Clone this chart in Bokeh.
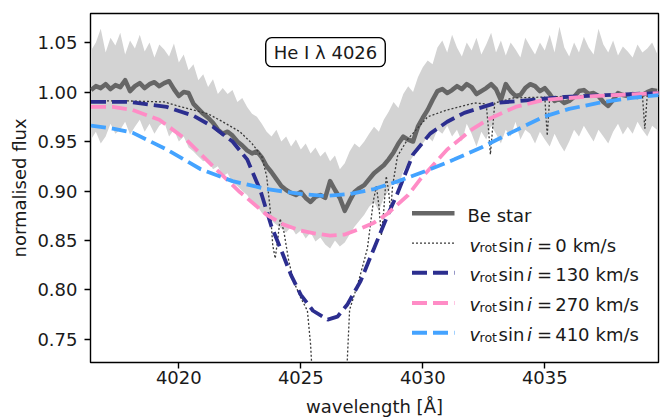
import numpy as np
from bokeh.plotting import figure
from bokeh.models import Label, FixedTicker, PrintfTickFormatter
from bokeh.core.properties import value
from bokeh.embed import file_html
from bokeh.resources import INLINE

# ---------------- data ----------------
# observed Be star spectrum (mean) and its spread, on a 0.2 A grid
wl_obs = np.round(np.linspace(4016.4, 4039.6, 117), 2)
flux_be = [
    1.002, 1.006, 1.004, 1.008, 1.003, 1.007, 1.005, 1.012, 1.001, 1.006,
    1.009, 1.004, 1.008, 1.010, 1.006, 1.009, 1.011, 1.003, 0.996, 1.000,
    0.999, 0.988, 0.983, 0.978, 0.974, 0.969, 0.962, 0.958, 0.960, 0.956,
    0.950, 0.946, 0.941, 0.938, 0.940, 0.934, 0.925, 0.919, 0.912, 0.905,
    0.901, 0.898, 0.896, 0.899, 0.893, 0.889, 0.894, 0.896, 0.893, 0.910,
    0.901, 0.893, 0.880, 0.890, 0.899, 0.903, 0.906, 0.912, 0.918, 0.922,
    0.926, 0.932, 0.939, 0.948, 0.955, 0.952, 0.950, 0.965, 0.974, 0.982,
    0.992, 1.001, 1.003, 0.999, 1.002, 1.006, 1.003, 1.008, 1.005, 0.998,
    1.001, 1.004, 1.008, 1.003, 0.992, 1.008, 1.001, 0.996, 0.997, 1.004,
    1.008, 1.006, 1.001, 1.004, 0.998, 0.991, 0.993, 0.989, 0.991, 0.995,
    1.001, 1.002, 0.998, 0.999, 0.996, 0.990, 0.986, 0.992, 0.999, 0.997,
    0.996, 0.998, 0.995, 0.997, 1.000, 1.002, 1.001,
]
band_hi = [
    1.042, 1.050, 1.064, 1.040, 1.055, 1.047, 1.060, 1.038, 1.052, 1.044,
    1.058, 1.041, 1.050, 1.035, 1.048, 1.043, 1.036, 1.049, 1.030, 1.038,
    1.022, 1.028, 1.012, 1.018, 1.005, 1.013, 0.998, 1.004, 0.998, 1.002,
    0.990, 0.994, 0.985, 0.978, 0.975, 0.968, 0.960, 0.955, 0.962, 0.950,
    0.955, 0.945, 0.952, 0.942, 0.948, 0.938, 0.944, 0.935, 0.940, 0.930,
    0.936, 0.922, 0.928, 0.940, 0.948, 0.944, 0.950, 0.958, 0.965, 0.960,
    0.972, 0.980, 0.990, 0.984, 0.998, 1.006, 1.000, 1.015, 1.025, 1.032,
    1.028, 1.045, 1.052, 1.040, 1.058, 1.045, 1.036, 1.050, 1.042, 1.055,
    1.038, 1.048, 1.060, 1.040, 1.052, 1.037, 1.050, 1.043, 1.035, 1.055,
    1.046, 1.038, 1.050, 1.042, 1.058, 1.040, 1.066, 1.045, 1.036, 1.050,
    1.040, 1.056, 1.045, 1.038, 1.064, 1.048, 1.040, 1.052, 1.037, 1.046,
    1.041, 1.035, 1.048, 1.040, 1.044, 1.050, 1.039,
]
band_lo = [
    0.952, 0.960, 0.948, 0.955, 0.968, 0.958, 0.962, 0.970, 0.957, 0.965,
    0.972, 0.960, 0.968, 0.958, 0.966, 0.970, 0.955, 0.962, 0.950, 0.955,
    0.944, 0.940, 0.935, 0.930, 0.932, 0.922, 0.925, 0.915, 0.918, 0.908,
    0.905, 0.900, 0.896, 0.889, 0.885, 0.878, 0.874, 0.870, 0.866, 0.862,
    0.858, 0.864, 0.856, 0.860, 0.852, 0.858, 0.849, 0.853, 0.846, 0.842,
    0.850, 0.844, 0.848, 0.856, 0.864, 0.870, 0.876, 0.884, 0.889, 0.880,
    0.893, 0.900, 0.910, 0.905, 0.920, 0.928, 0.935, 0.940, 0.948, 0.955,
    0.950, 0.962, 0.958, 0.966, 0.955, 0.962, 0.950, 0.968, 0.958, 0.945,
    0.960, 0.952, 0.966, 0.958, 0.948, 0.962, 0.955, 0.970, 0.952, 0.962,
    0.958, 0.948, 0.960, 0.952, 0.945, 0.958, 0.948, 0.940, 0.950, 0.962,
    0.955, 0.966, 0.958, 0.950, 0.962, 0.955, 0.948, 0.960, 0.968, 0.957,
    0.965, 0.958, 0.970, 0.962, 0.955, 0.966, 0.962,
]

# model, v sin i = 0 km/s
wl_0 = [4016.4, 4018.0, 4019.4, 4020.1, 4021.2, 4021.8, 4022.5, 4023.0, 4023.4, 4023.6,
        4023.75, 4023.85, 4023.95, 4024.05, 4024.15, 4024.3, 4024.5, 4024.7, 4025.0, 4025.27,
        4025.4, 4025.5, 4025.8, 4026.2, 4026.6, 4026.85, 4027.0, 4027.37, 4027.73, 4027.98,
        4028.1, 4028.2, 4028.3, 4028.4, 4028.5, 4028.6, 4028.68, 4028.76, 4028.96, 4029.37,
        4030.2, 4031.0, 4032.1, 4032.6, 4032.7, 4032.77, 4032.85, 4032.95, 4033.7, 4035.0,
        4035.05, 4035.1, 4035.15, 4035.2, 4037.0, 4039.0, 4039.05, 4039.1, 4039.15, 4039.2,
        4039.66]
flux_0 = [0.991, 0.991, 0.990, 0.985, 0.978, 0.970, 0.960, 0.948, 0.935, 0.915,
          0.880, 0.845, 0.832, 0.850, 0.872, 0.860, 0.830, 0.809, 0.792, 0.779,
          0.745, 0.700, 0.620, 0.590, 0.620, 0.700, 0.780, 0.809, 0.842, 0.891,
          0.905, 0.885, 0.855, 0.880, 0.915, 0.900, 0.878, 0.905, 0.935, 0.952,
          0.975, 0.982, 0.989, 0.988, 0.960, 0.937, 0.960, 0.989, 0.994, 0.995,
          0.975, 0.956, 0.975, 0.995, 0.997, 0.997, 0.980, 0.963, 0.980, 0.997,
          0.998]

# model, v sin i = 130 km/s
wl_130 = [4016.4, 4018.0, 4019.5, 4020.6, 4021.4, 4022.2, 4022.8, 4023.35, 4023.8, 4024.2,
          4024.6, 4025.0, 4025.5, 4026.1, 4026.5, 4026.9, 4027.45, 4028.0, 4028.55, 4028.95,
          4029.6, 4030.3, 4031.0, 4031.7, 4033.0, 4035.8, 4037.5, 4039.7]
flux_130 = [0.990, 0.990, 0.985, 0.976, 0.965, 0.950, 0.932, 0.900, 0.864, 0.840,
            0.815, 0.795, 0.779, 0.770, 0.773, 0.785, 0.809, 0.842, 0.875, 0.897,
            0.937, 0.958, 0.970, 0.979, 0.989, 0.995, 0.997, 0.999]

# model, v sin i = 270 km/s
wl_270 = [4016.4, 4017.3, 4018.1, 4019.2, 4020.3, 4021.4, 4022.5, 4023.6, 4024.3, 4025.0,
          4025.6, 4026.2, 4026.8, 4027.45, 4028.0, 4028.55, 4029.4, 4029.9, 4031.0, 4032.0,
          4032.65, 4033.8, 4034.95, 4037.0, 4039.7]
flux_270 = [0.985, 0.985, 0.982, 0.972, 0.952, 0.925, 0.899, 0.876, 0.866, 0.860,
            0.857, 0.855, 0.856, 0.862, 0.868, 0.877, 0.896, 0.912, 0.942, 0.962,
            0.972, 0.985, 0.992, 0.996, 0.999]

# model, v sin i = 410 km/s
wl_410 = [4016.4, 4017.3, 4018.1, 4019.5, 4020.9, 4022.2, 4023.6, 4025.0, 4026.0, 4027.0,
          4028.0, 4029.0, 4030.3, 4031.3, 4032.4, 4033.7, 4034.95, 4036.0, 4037.2, 4038.5,
          4039.7]
flux_410 = [0.966, 0.963, 0.959, 0.942, 0.922, 0.910, 0.902, 0.897, 0.895, 0.897,
            0.902, 0.910, 0.922, 0.932, 0.944, 0.960, 0.975, 0.983, 0.989, 0.994,
            0.997]

vsini_labels = ["0", "130", "270", "410"]

# ---------------- styling ----------------
X_RANGE = (4016.38, 4039.66)
Y_RANGE = (0.7267, 1.0794)
W, H = 660, 419
LEFT, RIGHT, TOP, BOTTOM = 90, 2, 13, 54
FW, FH = W - LEFT - RIGHT, H - TOP - BOTTOM
FONT = "DejaVu Sans"
FS = 18

C_BE = "#666666"
C_BAND = "#d3d3d3"
C_0 = "#3a3a3a"
C_130 = "#2c2e8f"
C_270 = "#ff8cc6"
C_410 = "#44a3ff"
DOT = "2 2"
DASH = "15 6"


def px_x(px):
    return X_RANGE[0] + (px - LEFT) / FW * (X_RANGE[1] - X_RANGE[0])


def px_y(py):
    return Y_RANGE[1] - (py - TOP) / FH * (Y_RANGE[1] - Y_RANGE[0])


p = figure(width=W, height=H, x_range=X_RANGE, y_range=Y_RANGE,
           output_backend="svg", toolbar_location=None,
           min_border_left=LEFT, min_border_right=RIGHT,
           min_border_top=TOP, min_border_bottom=BOTTOM)
p.background_fill_color = "white"
p.border_fill_color = "white"
p.outline_line_color = "black"
p.outline_line_width = 1.4
p.xgrid.visible = False
p.ygrid.visible = False

p.xaxis.ticker = FixedTicker(ticks=[4020, 4025, 4030, 4035])
p.yaxis.ticker = FixedTicker(ticks=[0.75, 0.80, 0.85, 0.90, 0.95, 1.00, 1.05])
p.yaxis.formatter = PrintfTickFormatter(format="%.2f")
for ax in (p.xaxis, p.yaxis):
    ax.axis_line_color = None
    ax.major_tick_line_color = "black"
    ax.major_tick_line_width = 1.4
    ax.major_tick_out = 6
    ax.major_tick_in = 0
    ax.minor_tick_line_color = None
    ax.major_label_text_font = FONT
    ax.major_label_text_font_size = f"{FS}px"
    ax.major_label_text_color = "#1a1a1a"
    ax.axis_label_text_font = FONT
    ax.axis_label_text_font_size = f"{FS}px"
    ax.axis_label_text_font_style = "normal"
    ax.axis_label_text_color = "#1a1a1a"
p.xaxis.axis_label = "wavelength [Å]"
p.yaxis.axis_label = "normalised flux"
p.xaxis.major_label_standoff = 2
p.xaxis.axis_label_standoff = 9
p.yaxis.major_label_standoff = 7
p.yaxis.axis_label_standoff = 4

# ---------------- glyphs ----------------
p.varea(x=wl_obs, y1=band_lo, y2=band_hi, fill_color=C_BAND, fill_alpha=1.0)
p.line(wl_obs, flux_be, line_color=C_BE, line_width=4.5, line_join="round")
p.line(wl_0, flux_0, line_color=C_0, line_width=1.3, line_dash=DOT)
p.line(wl_130, flux_130, line_color=C_130, line_width=3.8, line_dash=DASH)
p.line(wl_270, flux_270, line_color=C_270, line_width=3.8, line_dash=DASH)
p.line(wl_410, flux_410, line_color=C_410, line_width=3.8, line_dash=DASH)

# ---------------- line label box ----------------
p.add_layout(Label(x=px_x(325), y=px_y(52), text="He I λ 4026",
                   text_align="center", text_baseline="middle",
                   text_font=FONT, text_font_size=f"{FS}px", text_color="#1a1a1a",
                   background_fill_color="white", border_line_color="black",
                   border_line_width=1.4, border_radius=6,
                   padding=dict(left=8, right=8, top=4, bottom=4)))

# ---------------- legend (hand-built) ----------------
rows_py = [214.5, 244.5, 274.5, 305, 335]
h0, h1, t0 = 411.5, 454, 469
styles = [
    dict(line_color=C_BE, line_width=4.5),
    dict(line_color=C_0, line_width=1.3, line_dash=DOT),
    dict(line_color=C_130, line_width=3.8, line_dash=DASH),
    dict(line_color=C_270, line_width=3.8, line_dash=DASH),
    dict(line_color=C_410, line_width=3.8, line_dash=DASH),
]
for py, st in zip(rows_py, styles):
    p.line([px_x(h0), px_x(h1)], [px_y(py), px_y(py)], **st)


def put(txt, px, py, size=FS, style="normal"):
    p.text(x=[px_x(px)], y=[px_y(py)], text=[txt], text_font=value(FONT),
           text_font_size=f"{size}px", text_font_style=style,
           text_align="left", text_baseline="alphabetic", text_color="#1a1a1a")


BOFF = 2.0
put("Be star", t0 - 2, rows_py[0] + BOFF)
for py, lab in zip(rows_py[1:], vsini_labels):
    b = py + BOFF
    put("v", t0, b, style="italic")
    put("rot", t0 + 10, b + 3, size=12.6)
    put("sin", t0 + 29, b)
    put("i", t0 + 57.5, b, style="italic")
    put("=", t0 + 67.5, b)
    put(lab, t0 + 85.7, b)
    put("km/s", t0 + 85.7 + len(lab) * 11.45 + 6, b)

open("out.html", "w").write(file_html(p, INLINE))
